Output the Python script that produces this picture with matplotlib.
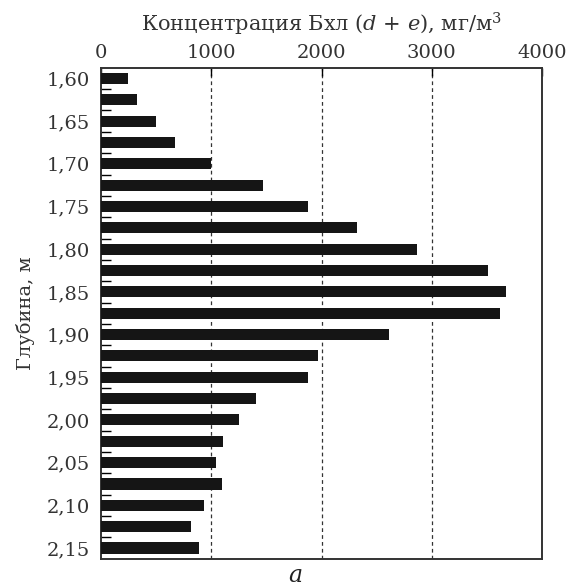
import numpy as np
import matplotlib
matplotlib.use('Agg')
import matplotlib.pyplot as plt

# chlorophyll (d + e) concentration by depth
depth = [1.600, 1.625, 1.650, 1.675, 1.700, 1.725, 1.750, 1.775, 1.800, 1.825,
         1.850, 1.875, 1.900, 1.925, 1.950, 1.975, 2.000, 2.025, 2.050, 2.075,
         2.100, 2.125, 2.150]
conc = [245, 325, 500, 670, 1000, 1465, 1880, 2320, 2870, 3510,
        3670, 3620, 2610, 1965, 1880, 1410, 1250, 1110, 1040, 1100,
        930, 815, 890]
depth_ticks = [1.60, 1.65, 1.70, 1.75, 1.80, 1.85, 1.90, 1.95, 2.00, 2.05, 2.10, 2.15]
conc_ticks = [0, 1000, 2000, 3000, 4000]

plt.rcParams['font.family'] = ['DejaVu Serif']
plt.rcParams['mathtext.fontset'] = 'dejavuserif'

fig = plt.figure(figsize=(5.7, 5.88), dpi=100)
ax = fig.add_axes([0.1772, 0.0493, 0.9509 - 0.1772, 0.8844 - 0.0493])

ax.barh(depth, conc, height=0.013, color='#151515', zorder=3)

ax.set_xlim(0, 4000)
ax.set_ylim(2.1629, 1.5877)

# dashed verticals at 1000, 2000, 3000
for xv in conc_ticks[1:-1]:
    ax.axvline(xv, color='#333333', lw=0.9, ls=(0, (3, 2.5)), zorder=1)

ax.xaxis.tick_top()
ax.xaxis.set_label_position('top')
ax.set_xticks(conc_ticks)
ax.set_xticklabels([str(v) for v in conc_ticks], fontsize=14, color='#333333')
ax.tick_params(axis='x', direction='in', length=6, width=1.0, pad=4)

ax.set_yticks(depth_ticks)
ax.set_yticklabels([('%.2f' % v).replace('.', ',') for v in depth_ticks],
                   fontsize=14, color='#333333')
ax.set_yticks(np.arange(1.6125, 2.16, 0.025), minor=True)
ax.tick_params(axis='y', which='major', length=0, pad=8)
ax.tick_params(axis='y', which='minor', direction='in', length=7, width=1.0)

for s in ax.spines.values():
    s.set_linewidth(1.4)
    s.set_color('#333333')

ax.set_xlabel('Концентрация Бхл ($d$ + $e$), мг/м$^3$', fontsize=15,
              color='#333333', labelpad=9)
ax.set_ylabel('Глубина, м', fontsize=14, color='#333333', labelpad=8)

fig.text(0.5175, 0.021, 'a', fontsize=17, style='italic', color='#222222',
         ha='center', va='center')

fig.savefig('out.png', dpi=100)
